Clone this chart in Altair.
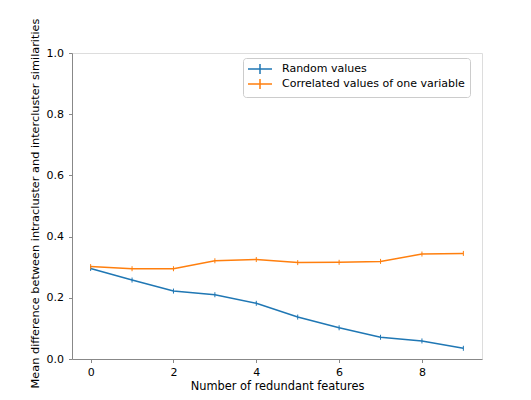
import altair as alt
import pandas as pd

features = [0, 1, 2, 3, 4, 5, 6, 7, 8, 9]
random_values = [0.296, 0.258, 0.222, 0.210, 0.182, 0.137, 0.102, 0.071, 0.059, 0.035]
correlated_values = [0.302, 0.295, 0.295, 0.321, 0.325, 0.315, 0.316, 0.319, 0.343, 0.345]
series = ["Random values", "Correlated values of one variable"]
colors = ["#1f77b4", "#ff7f0e"]
x_ticks = [0, 2, 4, 6, 8]
y_ticks = [0.0, 0.2, 0.4, 0.6, 0.8, 1.0]

rows = []
for f, v in zip(features, random_values):
    rows.append({"x": f, "y": v, "series": series[0]})
for f, v in zip(features, correlated_values):
    rows.append({"x": f, "y": v, "series": series[1]})
df = pd.DataFrame(rows)

FONT = "DejaVu Sans"
FS = 11

x = alt.X("x:Q",
          scale=alt.Scale(domain=[-0.45, 9.45], nice=False, zero=False),
          axis=alt.Axis(values=x_ticks, format="d", title="Number of redundant features",
                        grid=False, tickSize=3.5, labelPadding=4, titlePadding=3,
                        titleFontWeight="normal", titleFont=FONT, labelFont=FONT,
                        titleFontSize=11.4, labelFontSize=FS))
y = alt.Y("y:Q",
          scale=alt.Scale(domain=[0, 1], nice=False),
          axis=alt.Axis(values=y_ticks, format=".1f",
                        title="Mean difference between intracluster and intercluster similarities",
                        grid=False, tickSize=3.5, labelPadding=5, titlePadding=6,
                        titleFontWeight="normal", titleFont=FONT, labelFont=FONT,
                        titleFontSize=11.3, titleY=150, labelFontSize=FS))
legend = alt.Legend(title=None, orient="none", legendX=171, legendY=5,
                    symbolType="M-1.2,0L3.6,0M1.2,-1L1.2,1", symbolSize=100,
                    symbolStrokeWidth=1.5, symbolFillColor="transparent",
                    labelFontSize=FS, labelOffset=22, rowPadding=-1, padding=5,
                    labelLimit=400,
                    strokeColor="#cccccc", fillColor="white", cornerRadius=3,
                    labelFont=FONT, labelColor="black")
color = alt.Color("series:N", scale=alt.Scale(domain=series, range=colors), legend=legend)

line = alt.Chart(df).mark_line(strokeWidth=1.5).encode(x=x, y=y, color=color)
marks = alt.Chart(df).mark_point(shape="M0,-1L0,1", size=25, strokeWidth=1,
                                 filled=False, opacity=1).encode(x=x, y=y, color=color)

chart = (line + marks).properties(
    width=410, height=306,
    autosize=alt.AutoSizeParams(type="none"),
    padding={"left": 64, "top": 45, "right": 41, "bottom": 33},
).configure_view(stroke="black", strokeWidth=1).configure_axis(
    domainColor="black", tickColor="black", labelColor="black", titleColor="black",
    domainWidth=1, tickWidth=1,
).configure(background="white")

chart.save("out.html", embed_options={"renderer": "svg", "actions": False})
